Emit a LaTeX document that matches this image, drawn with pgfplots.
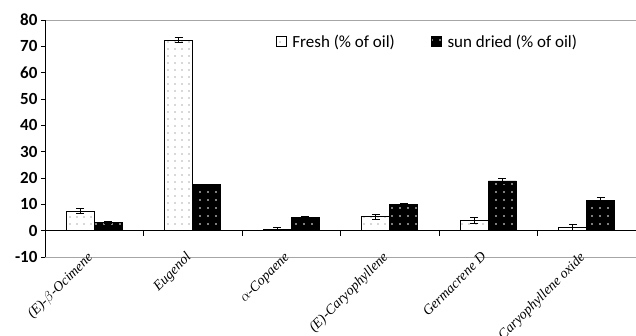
\documentclass[border=0pt]{standalone}
\usepackage{pgfplots}
\pgfplotsset{compat=1.18}
\usepackage{pgfplotstable}
\usepackage{fontspec}
\setmainfont{Carlito}
\newfontfamily\serifit{Liberation Serif}
\usetikzlibrary{patterns.meta}

\pgfplotstableread{
x fresh fe dried de
0 7.5 1.1 3.1 0.3
1 72.4 0.8 17.4 0.3
2 0.6 0.7 5.0 0.4
3 5.3 1.0 9.9 0.6
4 3.8 1.1 18.9 0.8
5 1.2 1.1 11.6 1.0
}\data

\begin{document}
\begin{tikzpicture}
\begin{axis}[
  name=ax,
  scale only axis,
  width=591pt, height=237pt,
  xmin=-0.5, xmax=5.5,
  ymin=-10, ymax=80,
  ytick={-10,0,...,80},
  axis x line*=box,
  axis y line*=left,
  x axis line style={gray!70, line width=0.8pt},
  y axis line style={black, line width=0.9pt},
  tick align=outside,
  major tick length=4pt,
  ytick style={black, line width=0.8pt},
  xtick style={draw=none},
  xtick={0,...,5},
  xticklabels={{(E)-$\beta$-Ocimene},{Eugenol},{$\alpha$-Copaene},{(E)-Caryophyllene},{Germacrene D},{Caryophyllene oxide}},
  xticklabel style={xshift=-8pt, yshift=10pt, rotate=45, anchor=north east, font=\fontsize{14}{16}\selectfont\serifit\itshape, inner sep=0pt},
  yticklabel style={font=\fontsize{17}{20}\selectfont\bfseries},
  /pgf/number format/assume math mode=true,
  ybar=0pt,
  bar width=28pt,
  legend columns=2,
  legend style={draw=none, fill=none, at={(0.385,0.955)}, anchor=north west,
    font=\fontsize{17}{20}\selectfont, column sep=4pt,
    /tikz/every even column/.append style={column sep=34pt}},
  legend image code/.code={\draw[#1] (0pt,-5pt) rectangle (10pt,5pt);},
  error bars/error mark=-,
  error bars/error bar style={black, line width=0.9pt},
  error bars/error mark options={rotate=90, black, line width=0.9pt, mark size=4pt},
]
\addplot[draw=black, line width=0.7pt, fill=white,
  postaction={pattern={Dots[distance=7pt, radius=0.7pt]}, pattern color=gray!70!black},
  error bars/.cd, y dir=both, y explicit]
  table[x=x, y=fresh, y error=fe] {\data};
\addlegendentry{Fresh (\% of oil)}
\addplot[draw=black, line width=0.7pt, fill=black,
  postaction={pattern={Dots[distance=8pt, radius=0.8pt]}, pattern color=white},
  error bars/.cd, y dir=both, y explicit]
  table[x=x, y=dried, y error=de] {\data};
\addlegendentry{sun dried (\% of oil)}
\draw[black, line width=0.9pt] (axis cs:-0.5,0) -- (axis cs:5.5,0);
\draw[black, line width=0.8pt] (axis cs:0.5,0) -- (axis cs:0.5,-1.9);
\draw[black, line width=0.8pt] (axis cs:1.5,0) -- (axis cs:1.5,-1.9);
\draw[black, line width=0.8pt] (axis cs:2.5,0) -- (axis cs:2.5,-1.9);
\draw[black, line width=0.8pt] (axis cs:3.5,0) -- (axis cs:3.5,-1.9);
\draw[black, line width=0.8pt] (axis cs:4.5,0) -- (axis cs:4.5,-1.9);
\end{axis}
\pgfresetboundingbox
\path[use as bounding box] ([xshift=-45pt,yshift=-79pt]ax.south west) rectangle ([yshift=20pt]ax.north east);
\end{tikzpicture}
\end{document}
